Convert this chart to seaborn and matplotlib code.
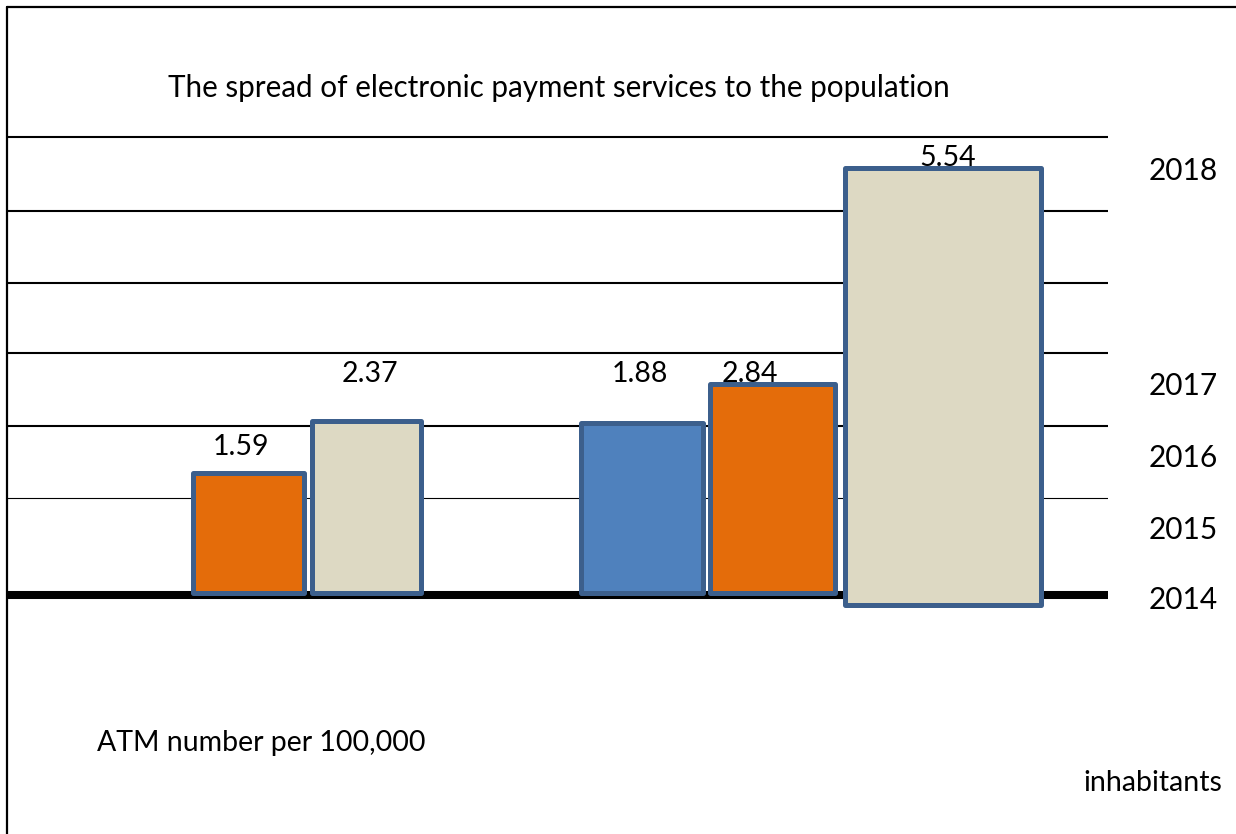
import pandas as pd
import numpy as np
import seaborn as sns
import matplotlib as mpl
from matplotlib import pyplot as plt
from matplotlib.lines import Line2D

# ---- data (chart's own vertical units, baseline = 0) ----
bar_names = ["g1_orange", "g1_beige", "g2_blue", "g2_orange", "g2_beige"]
bar_values = ["1.59", "2.37", "1.88", "2.84", "5.54"]
bar_tops = [1.69, 2.42, 2.39, 2.93, 5.93]
bar_bottoms = [0.03, 0.03, 0.03, 0.03, -0.14]
years = ["2014", "2015", "2016", "2017", "2018"]
year_levels = [-0.04, 0.94, 1.94, 2.94, 5.93]
grid_levels = [1.35, 2.35, 3.36, 4.33, 5.33, 6.36]

title = "The spread of electronic payment services to the population"
note_left = "ATM number per 100,000"
note_right = "inhabitants"

# ---- layout / style ----
W, H = 1236, 834
base_px, unit_px = 595, 72
ax_top_px, ax_bot_px = 100, 720
x0_px, x1_px = 7, 1108

bar_left = [193, 312, 581, 710, 845]
bar_width = [111, 109, 122, 125, 196]
label_x = [241, 370, 640, 750, 948]
label_y = [2.06, 3.07, 3.07, 3.07, 6.07]

colors = {"g1_orange": "#E46C0A", "g1_beige": "#DDD9C3", "g2_blue": "#4F81BD",
          "g2_orange": "#E46C0A", "g2_beige": "#DDD9C3"}
edge = "#3C5F8C"

sns.set_theme(style="white")
plt.rcParams["font.family"] = ["Lato", "DejaVu Sans"]
plt.rcParams["text.color"] = "black"
plt.rcParams["ytick.color"] = "black"

fig = plt.figure(figsize=(W / 100, H / 100), dpi=100)
ax = fig.add_axes([x0_px / W, (H - ax_bot_px) / H, (x1_px - x0_px) / W,
                   (ax_bot_px - ax_top_px) / H])

df = pd.DataFrame({"bar": bar_names, "top": bar_tops})
sns.barplot(data=df, x="bar", y="top", hue="bar", order=bar_names,
            hue_order=bar_names, palette=colors, saturation=1, legend=False,
            edgecolor=edge, linewidth=3.6, ax=ax, zorder=3)

for p, left, w, bot, top in zip(ax.patches, bar_left, bar_width, bar_bottoms, bar_tops):
    p.set_x(left)
    p.set_width(w)
    p.set_y(bot)
    p.set_height(top - bot)
    p.set_joinstyle("round")

ax.set_xlim(x0_px, x1_px)
ax.set_ylim(-(ax_bot_px - base_px) / unit_px, (base_px - ax_top_px) / unit_px)

# gridlines + thick base line
for i, lv in enumerate(grid_levels):
    ax.axhline(lv, color="black", lw=0.8 if i == 0 else 1.5, zorder=1)
ax.axhline(0, color="black", lw=5.8, zorder=2)

# value labels (sit behind the bars)
for txt, xx, yy in zip(bar_values, label_x, label_y):
    ax.text(xx, yy, txt, ha="center", va="center", fontsize=20.5, zorder=2.5)

# year labels on the right
ax.yaxis.tick_right()
ax.set_yticks(year_levels)
ax.set_yticklabels(years, fontsize=21.5)
ax.tick_params(axis="y", length=0, pad=29)
ax.set_xticks([])
ax.set_xlabel("")
ax.set_ylabel("")
for s in ax.spines.values():
    s.set_visible(False)

# titles / notes
fig.text(168 / W, 1 - 88 / H, title, ha="left", va="center", fontsize=21.3)
fig.text(97 / W, 1 - 743 / H, note_left, ha="left", va="center", fontsize=20.5)
fig.text(1222 / W, 1 - 783 / H, note_right, ha="right", va="center", fontsize=20.5)

# outer frame (only left and top visible)
fig.add_artist(Line2D([7 / W, 7 / W], [0, 1 - 7 / H], color="black", lw=1.6))
fig.add_artist(Line2D([7 / W, 1], [1 - 7 / H, 1 - 7 / H], color="black", lw=1.6))

fig.savefig("out.png", dpi=100)
